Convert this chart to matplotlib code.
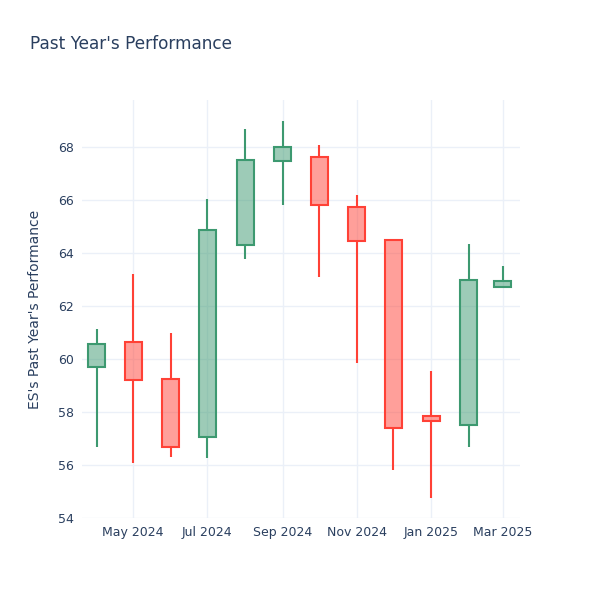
#!/usr/bin/env python3
"""
Past year's performance - monthly candlestick chart (plotly_white look)
"""

import matplotlib
matplotlib.use("Agg")
import matplotlib.pyplot as plt
import matplotlib.dates as mdates
import pandas as pd

# Dữ liệu theo tháng
months = ["2024-04-01", "2024-05-01", "2024-06-01", "2024-07-01", "2024-08-01", "2024-09-01",
          "2024-10-01", "2024-11-01", "2024-12-01", "2025-01-01", "2025-02-01", "2025-03-01"]
opens = [59.70, 60.64, 59.26, 57.04, 64.29, 67.47, 67.61, 65.75, 64.49, 57.85, 57.51, 62.73]
highs = [61.14, 63.21, 60.99, 66.03, 68.67, 68.98, 68.08, 66.20, 64.49, 59.55, 64.34, 63.51]
lows = [56.67, 56.06, 56.29, 56.25, 63.76, 65.80, 63.08, 59.86, 55.81, 54.74, 56.69, 62.73]
closes = [60.57, 59.21, 56.69, 64.87, 67.51, 68.01, 65.82, 64.46, 57.40, 57.67, 62.98, 62.95]

UP = "#3D9970"
DOWN = "#FF4136"
TEXT = "#2a3f5f"
GRID = "#EBF0F8"

dates = mdates.date2num(pd.to_datetime(months).to_pydatetime())

fig = plt.figure(figsize=(6, 6), dpi=100)
ax = fig.add_axes([82 / 600, 1 - 518 / 600, (520 - 82) / 600, (518 - 100) / 600])

body_w = 14  # days
for d, o, h, l, c in zip(dates, opens, highs, lows, closes):
    col = UP if c >= o else DOWN
    top, bot = max(o, c), min(o, c)
    # râu nến
    ax.plot([d, d], [top, h], color=col, lw=1.5, solid_capstyle="butt", zorder=3)
    ax.plot([d, d], [l, bot], color=col, lw=1.5, solid_capstyle="butt", zorder=3)
    # thân nến
    ax.bar(d, top - bot, bottom=bot, width=body_w, color=col, alpha=0.5,
           linewidth=0, zorder=3)
    ax.bar(d, top - bot, bottom=bot, width=body_w, facecolor="none",
           edgecolor=col, linewidth=1.5, zorder=4)

ax.set_xlim(mdates.date2num(pd.Timestamp("2024-03-20")), mdates.date2num(pd.Timestamp("2025-03-15")))
ax.set_ylim(54.0, 69.77)
ax.set_yticks([54, 56, 58, 60, 62, 64, 66, 68])

ax.xaxis.set_major_locator(mdates.MonthLocator(bymonth=[1, 3, 5, 7, 9, 11]))
ax.xaxis.set_major_formatter(mdates.DateFormatter("%b %Y"))

ax.grid(True, color=GRID, lw=1)
ax.set_axisbelow(True)
for s in ax.spines.values():
    s.set_visible(False)
ax.tick_params(length=0, labelsize=9, colors=TEXT, pad=6)

fig.text(30 / 600, 1 - 44 / 600, "Past Year's Performance", fontsize=12.2, color=TEXT, va="center")
fig.text(35 / 600, 1 - 309 / 600, "ES's Past Year's Performance", fontsize=10, color=TEXT,
         rotation=90, ha="center", va="center")

plt.savefig("out.png", dpi=100)
